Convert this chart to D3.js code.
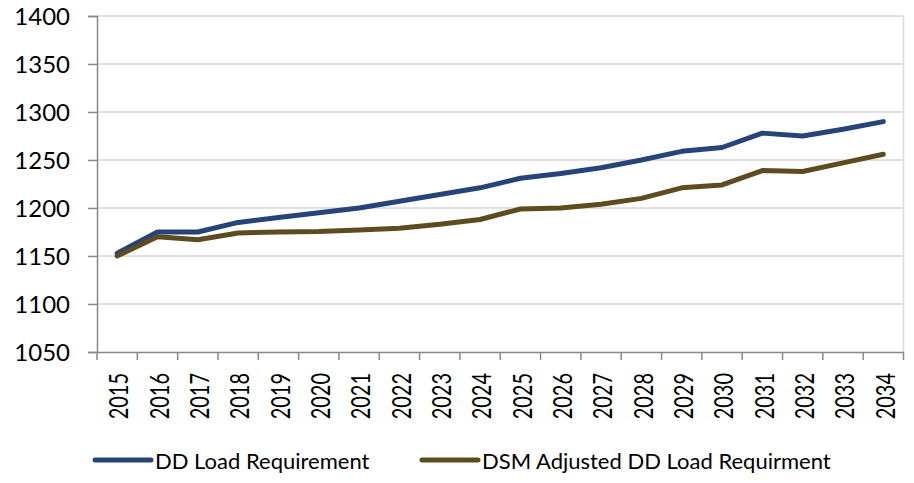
<!DOCTYPE html>
<html>
<head>
<meta charset="utf-8">
<script src="https://cdn.jsdelivr.net/npm/d3@7"></script>
<style>
  html, body { margin: 0; padding: 0; background: #fff; }
  svg { display: block; font-family: Lato, "Open Sans", sans-serif; }
</style>
</head>
<body>
<svg id="chart" width="914" height="483"></svg>
<script>
const years = ["2015","2016","2017","2018","2019","2020","2021","2022","2023","2024","2025","2026","2027","2028","2029","2030","2031","2032","2033","2034"];
const ddLoad = [1153,1175,1175,1185,1190,1195,1200,1207,1214,1221,1231,1236,1242,1250,1259,1263,1278,1275,1282,1290];
const dsmLoad = [1150,1170,1167,1174,1175,1175.5,1177,1179,1183,1188,1199,1200,1204,1210,1221,1224,1239,1238,1247,1256];
const yTicks = [1050,1100,1150,1200,1250,1300,1350,1400];
const seriesNames = ["DD Load Requirement", "DSM Adjusted DD Load Requirment"];
const seriesColors = ["#264478", "#5c4c1f"];

const svg = d3.select("#chart");
const m = {left: 97, right: 914 - 903.5, top: 16, bottom: 483 - 352};
const W = 914, H = 483;

const x = d3.scaleBand().domain(years).range([m.left, W - m.right]);
const y = d3.scaleLinear().domain([1050, 1400]).range([H - m.bottom, m.top]);

// gridlines
svg.append("g").selectAll("line").data(yTicks.filter(d => d !== 1050)).join("line")
  .attr("x1", m.left).attr("x2", W - m.right)
  .attr("y1", d => y(d)).attr("y2", d => y(d))
  .attr("stroke", "#d9d9d9").attr("stroke-width", 1.5);

// right border
svg.append("line")
  .attr("x1", W - m.right).attr("x2", W - m.right)
  .attr("y1", y(1400)).attr("y2", y(1050))
  .attr("stroke", "#d9d9d9").attr("stroke-width", 1.5);

// y axis
const yAxis = svg.append("g").attr("transform", `translate(${m.left},0)`)
  .call(d3.axisLeft(y).tickValues(yTicks).tickSize(9).tickPadding(18).tickFormat(d3.format("d")));
yAxis.select(".domain").attr("stroke", "#898989").attr("stroke-width", 1.5);
yAxis.selectAll(".tick line").attr("stroke", "#898989").attr("stroke-width", 1.5);
yAxis.selectAll(".tick text").attr("font-size", 24).attr("fill", "#000")
  .attr("font-family", "Lato, sans-serif").attr("dy", "0.36em");

// x axis
const xAxis = svg.append("g").attr("transform", `translate(0,${y(1050)})`)
  .call(d3.axisBottom(x).tickSize(0).tickFormat(""));
xAxis.select(".domain").attr("stroke", "#898989").attr("stroke-width", 1.5);
// tick marks at band boundaries
const bounds = years.map(d => x(d)).concat([x(years[years.length - 1]) + x.bandwidth()]);
svg.append("g").selectAll("line").data(bounds).join("line")
  .attr("x1", d => d).attr("x2", d => d)
  .attr("y1", y(1050)).attr("y2", y(1050) + 8)
  .attr("stroke", "#898989").attr("stroke-width", 1.5);
// x labels rotated
svg.append("g").selectAll("text").data(years).join("text")
  .attr("transform", d => `translate(${x(d) + x.bandwidth() / 2 + 1},${y(1050) + 21}) rotate(-90) scale(0.74,1)`)
  .attr("text-anchor", "end")
  .attr("dominant-baseline", "central")
  .attr("font-size", 27)
  .attr("fill", "#000")
  .text(d => d);

// lines
const line = d3.line().x((d, i) => x(years[i]) + x.bandwidth() / 2).y(d => y(d));
[ddLoad, dsmLoad].forEach((s, i) => {
  svg.append("path").datum(s)
    .attr("d", line)
    .attr("fill", "none")
    .attr("stroke", seriesColors[i])
    .attr("stroke-width", 5)
    .attr("stroke-linejoin", "round")
    .attr("stroke-linecap", "round");
});

// legend
const legendX = [95, 422];
const lg = svg.append("g");
seriesNames.forEach((name, i) => {
  lg.append("line")
    .attr("x1", legendX[i]).attr("x2", legendX[i] + 56)
    .attr("y1", 460).attr("y2", 460)
    .attr("stroke", seriesColors[i]).attr("stroke-width", 5).attr("stroke-linecap", "round");
  lg.append("text")
    .attr("x", legendX[i] + 60).attr("y", 469)
    .attr("font-size", 22).attr("fill", "#000")
    .text(name);
});
</script>
</body>
</html>
